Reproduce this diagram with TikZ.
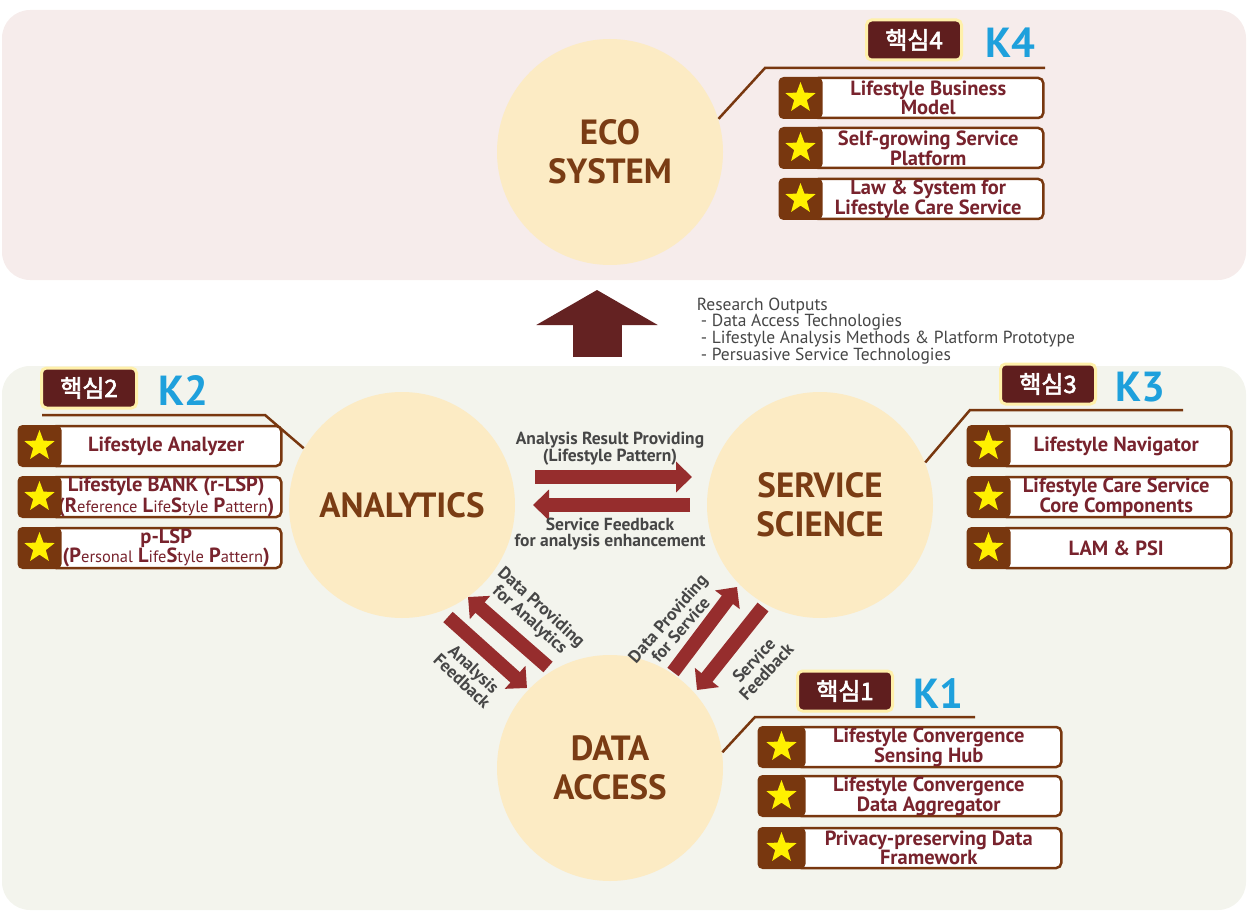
\documentclass[tikz,border=0pt]{standalone}
\usepackage{fontspec}
\setmainfont{PT Sans}
\newfontfamily\krfont[FakeBold=2.5]{Noto Sans CJK KR}
\usepackage{tikz}
\usetikzlibrary{arrows.meta,shapes.geometric,positioning}

\definecolor{toppanel}{RGB}{246,236,235}
\definecolor{botpanel}{RGB}{243,244,237}
\definecolor{bubblefill}{RGB}{252,235,196}
\definecolor{bubbletext}{RGB}{122,60,20}
\definecolor{flowred}{RGB}{150,45,45}
\definecolor{upred}{RGB}{100,34,34}
\definecolor{labelgray}{RGB}{70,70,70}
\definecolor{tagred}{RGB}{95,30,30}
\definecolor{tagedge}{RGB}{255,240,170}
\definecolor{kblue}{RGB}{30,160,220}
\definecolor{boxbrown}{RGB}{120,55,15}
\definecolor{itemred}{RGB}{120,35,45}
\definecolor{staryellow}{RGB}{255,240,0}

\newcommand{\lspsmall}[1]{{\fontsize{16.5}{16}\selectfont\mdseries #1}}

\begin{document}
\begin{tikzpicture}[x=1pt, y=-1pt, line width=1pt,
    panel/.style={rounded corners=28pt},
    bubble/.style={circle, fill=bubblefill, minimum size=226pt, inner sep=0pt, text=bubbletext,
      font=\fontsize{35}{39}\selectfont\bfseries, align=center},
    flow/.style={line width=14pt, draw=flowred, -{Triangle[length=16pt, width=30pt]}},
    flowlabel/.style={text=labelgray, font=\fontsize{17.5}{16}\selectfont\bfseries, align=center},
    difflabel/.style={flowlabel, font=\fontsize{17.5}{17}\selectfont\bfseries},
    tag/.style={rounded corners=5pt, fill=tagred, draw=tagedge, line width=3pt, minimum width=95pt,
      minimum height=40pt, text=white, font=\krfont\fontsize{24}{24}\selectfont},
    kname/.style={text=kblue, font=\fontsize{42}{42}\selectfont\bfseries},
    callout/.style={line width=2.5pt, draw=boxbrown},
    itembox/.style={rounded corners=5pt, fill=white, draw=boxbrown, line width=2.5pt, minimum height=40pt,
      text=itemred, font=\fontsize{20.5}{16}\selectfont\bfseries, align=center, inner sep=0pt, anchor=west},
    starbox/.style={rounded corners=5pt, fill=boxbrown, minimum width=44pt, minimum height=42pt, anchor=west},
    staricon/.style={star, star points=5, star point ratio=2.4, fill=staryellow, minimum size=32pt, inner sep=0pt}
  ]
  \useasboundingbox (0,0) rectangle (1248,912);

  % draw the two panels
  \fill[toppanel, panel] (2,10) rectangle (1246,280);
  \fill[botpanel, panel] (2,366) rectangle (1246,910);

  % draw circles
  \node[bubble] (eco) at (610,152) {ECO\\SYSTEM};
  \node[bubble] (ana) at (402,505) {ANALYTICS};
  \node[bubble] (svc) at (820,505) {SERVICE\\SCIENCE};
  \node[bubble] (data) at (610,768) {DATA\\ACCESS};

  % draw up arrow and research outputs
  \coordinate (upfoot) at (597,357);
  \coordinate (uptip) at (597,290);
  \draw[line width=49pt, draw=upred, -{Triangle[length=35pt, width=120pt]}] (upfoot) -- (uptip);
  \node[anchor=north west, align=left, text=labelgray, font=\fontsize{17.5}{16}\selectfont] (outputs) at (693,294)
    {Research Outputs\\\hspace{4pt}- Data Access Technologies\\\hspace{4pt}- Lifestyle Analysis Methods \& Platform Prototype\\\hspace{4pt}- Persuasive Service Technologies};

  % draw flow arrows between circles
  \coordinate (resA) at (535,477);  \coordinate (resB) at (692,477);
  \coordinate (fbA) at (690,505);   \coordinate (fbB) at (533,505);
  \draw[flow] (resA) -- (resB);
  \draw[flow] (fbA) -- (fbB);
  \node[flowlabel] (reslbl) at (610,449) {Analysis Result Providing\\(Lifestyle Pattern)};
  \node[flowlabel] (fblbl) at (610,534) {Service Feedback\\for analysis enhancement};

  \coordinate (dpaA) at (548,667);  \coordinate (dpaB) at (468,597);
  \coordinate (afA) at (448,617);   \coordinate (afB) at (527,688);
  \draw[flow] (dpaA) -- (dpaB);
  \draw[flow] (afA) -- (afB);
  \node[difflabel, rotate=-42] (dpalbl) at (535,614) {Data Providing\\for Analytics};
  \node[difflabel, rotate=-43] (aflbl) at (468,675) {Analysis\\Feedback};

  \coordinate (dpsA) at (673,672);  \coordinate (dpsB) at (737,587);
  \coordinate (sfA) at (763,607);   \coordinate (sfB) at (697,690);
  \draw[flow] (dpsA) -- (dpsB);
  \draw[flow] (sfA) -- (sfB);
  \node[difflabel, rotate=49] (dpslbl) at (674,624) {Data Providing\\for Service};
  \node[difflabel, rotate=47] (sflbl) at (760,666) {Service\\Feedback};

  % draw callout lines
  \coordinate (k4bend) at (765,68);  \coordinate (k4end) at (1045,68);
  \coordinate (k2bend) at (265,415); \coordinate (k2end) at (42,415);
  \coordinate (k3bend) at (970,410); \coordinate (k3end) at (1183,410);
  \coordinate (k1bend) at (755,717); \coordinate (k1end) at (975,717);
  \draw[callout] (eco.17) -- (k4bend) -- (k4end);
  \draw[callout] (ana.150) -- (k2bend) -- (k2end);
  \draw[callout] (svc.22) -- (k3bend) -- (k3end);
  \draw[callout] (data.8) -- (k1bend) -- (k1end);

  % draw K4 items
  \foreach \n/\yc/\txt in {1/98/{Lifestyle Business\\Model}, 2/148/{Self-growing Service\\Platform},
      3/199/{Law \& System for\\Lifestyle Care Service}} {
    \node[itembox, minimum width=230pt] (k4box\n) at (812,\yc) {\txt};
    \node[starbox] (k4sq\n) at (778,\yc) {};
    \node[staricon] (k4star\n) at (k4sq\n) {};
  }
  % draw K2 items
  \foreach \n/\yc/\txt in {1/446/{Lifestyle Analyzer},
      2/497/{Lifestyle BANK (r-LSP)\\(R\lspsmall{eference} L\lspsmall{ife}S\lspsmall{tyle} P\lspsmall{attern})},
      3/548/{p-LSP\\(P\lspsmall{ersonal} L\lspsmall{ife}S\lspsmall{tyle} P\lspsmall{attern})}} {
    \node[itembox, minimum width=230pt] (k2box\n) at (50,\yc) {\txt};
    \node[starbox] (k2sq\n) at (17,\yc) {};
    \node[staricon] (k2star\n) at (k2sq\n) {};
  }
  % draw K3 items
  \foreach \n/\yc/\txt in {1/446/{Lifestyle Navigator}, 2/497/{Lifestyle Care Service\\Core Components},
      3/548/{LAM \& PSI}} {
    \node[itembox, minimum width=230pt] (k3box\n) at (1000,\yc) {\txt};
    \node[starbox] (k3sq\n) at (966,\yc) {};
    \node[staricon] (k3star\n) at (k3sq\n) {};
  }
  % draw K1 items
  \foreach \n/\yc/\txt in {1/747/{Lifestyle Convergence\\Sensing Hub}, 2/796/{Lifestyle Convergence\\Data Aggregator},
      3/848/{Privacy-preserving Data\\Framework}} {
    \node[itembox, minimum width=265pt] (k1box\n) at (795,\yc) {\txt};
    \node[starbox, minimum width=48pt] (k1sq\n) at (757,\yc) {};
    \node[staricon] (k1star\n) at (k1sq\n) {};
  }

  % draw tags and K names
  \node[tag] (k4tag) at (914,40) {핵심4};
  \node[kname] (k4) at (1010,43) {K4};
  \node[tag] (k2tag) at (89,388) {핵심2};
  \node[kname] (k2) at (183,391) {K2};
  \node[tag] (k3tag) at (1048,384) {핵심3};
  \node[kname] (k3) at (1140,387) {K3};
  \node[tag] (k1tag) at (845,691) {핵심1};
  \node[kname] (k1) at (938,694) {K1};
\end{tikzpicture}
\end{document}
